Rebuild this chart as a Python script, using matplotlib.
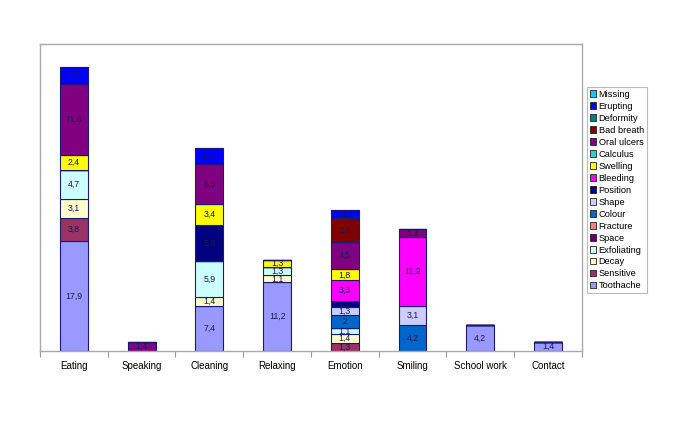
import numpy as np
import matplotlib
matplotlib.use("Agg")
import matplotlib.pyplot as plt
from matplotlib.patches import Patch

plt.rcParams["font.family"] = ["Liberation Sans", "DejaVu Sans"]

categories = ["Eating", "Speaking", "Cleaning", "Relaxing", "Emotion",
              "Smiling", "School work", "Contact"]

# stacking order, bottom to top
series = ["Toothache", "Sensitive", "Decay", "Exfoliating", "Space", "Fracture",
          "Colour", "Shape", "Position", "Bleeding", "Swelling", "Calculus",
          "Oral ulcers", "Bad breath", "Deformity", "Erupting", "Missing"]

toothache   = [17.9, 0, 7.4, 11.2, 0, 0, 4.2, 1.4]
sensitive   = [3.8, 0, 0, 0, 1.3, 0, 0, 0]
decay       = [3.1, 0, 1.4, 1.1, 1.4, 0, 0, 0]
exfoliating = [4.7, 0, 5.9, 1.3, 1.1, 0, 0, 0]
space       = [0, 0, 0, 0, 0, 0, 0, 0]
fracture    = [0, 0, 0, 0, 0, 0, 0, 0]
colour      = [0, 0, 0, 0, 2.0, 4.2, 0, 0]
shape       = [0, 0, 0, 0, 1.3, 3.1, 0, 0]
position    = [0, 0, 5.8, 0, 1.1, 0, 0, 0]
bleeding    = [0, 0, 0, 0, 3.3, 11.2, 0, 0]
swelling    = [2.4, 0, 3.4, 1.3, 1.8, 0, 0, 0]
calculus    = [0, 0, 0, 0, 0, 0, 0, 0]
oral_ulcers = [11.6, 1.4, 6.5, 0, 4.5, 1.3, 0, 0]
bad_breath  = [0, 0, 0, 0, 3.8, 0, 0, 0]
deformity   = [0, 0, 0, 0, 0, 0, 0, 0]
erupting    = [2.7, 0, 2.7, 0, 1.3, 0, 0, 0]
missing     = [0, 0, 0, 0, 0, 0, 0, 0]

values = [toothache, sensitive, decay, exfoliating, space, fracture, colour,
          shape, position, bleeding, swelling, calculus, oral_ulcers,
          bad_breath, deformity, erupting, missing]

colors = ["#9999FF", "#993366", "#FFFFCC", "#CCFFFF", "#660066", "#FF8080",
          "#0066CC", "#CCCCFF", "#000080", "#FF00FF", "#FFFF00", "#33CCCC",
          "#800080", "#800000", "#008080", "#0000FF", "#00CCFF"]

fig = plt.figure(figsize=(6.85, 4.24), dpi=100)
ax = fig.add_axes([0.0584, 0.1722, 0.7912, 0.724])

x = np.arange(len(categories))
bottom = np.zeros(len(categories))
for name, vals, col in zip(series, values, colors):
    v = np.array(vals, dtype=float)
    ax.bar(x, v, 0.41, bottom=bottom, color=col, edgecolor="#1a1a70",
           linewidth=0.8, zorder=2)
    for xi, vi, bi in zip(x, v, bottom):
        if vi > 0:
            txt = f"{vi:g}".replace(".", ",")
            ax.text(xi, bi + vi / 2, txt, ha="center", va="center",
                    fontsize=6.3, color="#1a1a50", zorder=3)
    bottom += v

ax.set_xlim(-0.5, len(categories) - 0.5)
ax.set_ylim(0, 50)
ax.set_yticks([])
ax.set_xticks(x)
ax.set_xticklabels(categories, fontsize=7)
ax.tick_params(axis="x", which="major", length=0, pad=7)
ax.set_xticks(np.arange(len(categories) + 1) - 0.5, minor=True)
ax.tick_params(axis="x", which="minor", length=4, color="#999999", width=0.8)
for s in ax.spines.values():
    s.set_color("#aaaaaa")
    s.set_linewidth(1.0)

handles = [Patch(facecolor=c, edgecolor="#222222", linewidth=0.6, label=n)
           for n, c in zip(series, colors)][::-1]
leg = fig.legend(handles=handles, loc="upper left",
                 bbox_to_anchor=(587 / 685, 1 - 87 / 424), fontsize=6.7,
                 frameon=True, fancybox=False, edgecolor="#aaaaaa",
                 handlelength=0.7, handleheight=0.7, handletextpad=0.25,
                 labelspacing=0.32, borderpad=0.3, borderaxespad=0)
leg.get_frame().set_linewidth(0.8)

fig.savefig("out.png", dpi=100)
